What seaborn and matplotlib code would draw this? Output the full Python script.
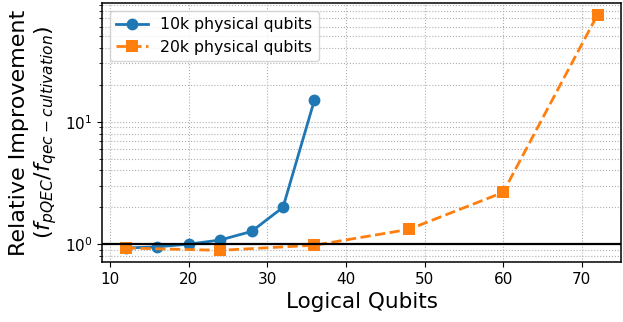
import matplotlib
matplotlib.use("Agg")
import matplotlib.pyplot as plt
import seaborn as sns
import pandas as pd

# Data
qubits_10k = [12, 16, 20, 24, 28, 32, 36]
improve_10k = [0.93, 0.95, 1.0, 1.08, 1.27, 2.0, 15.1]
qubits_20k = [12, 24, 36, 48, 60, 72]
improve_20k = [0.93, 0.89, 0.98, 1.32, 2.65, 75.0]
series_names = ['10k physical qubits', '20k physical qubits']

df = pd.concat([
    pd.DataFrame({'Logical Qubits': qubits_10k, 'Improvement': improve_10k, 'Setup': series_names[0]}),
    pd.DataFrame({'Logical Qubits': qubits_20k, 'Improvement': improve_20k, 'Setup': series_names[1]}),
])

fig = plt.figure(figsize=(6.23, 3.22), dpi=100)
ax = fig.add_axes([0.164, 0.186, 0.833, 0.805])

sns.lineplot(data=df, x='Logical Qubits', y='Improvement', hue='Setup', style='Setup',
             markers=['o', 's'], dashes=[(None, None), (3.7, 1.6)], markersize=8.5,
             markeredgewidth=0, linewidth=2, palette=['#1f77b4', '#ff7f0e'], ax=ax)

ax.set_yscale('log')
ax.axhline(1, color='black', linewidth=1.6)

# Grid on both major and minor ticks
ax.grid(True, which='both', linestyle=':', color='#b0b0b0', linewidth=0.8)
for s in ax.spines.values():
    s.set_linewidth(1.1)

ax.set_xlabel('Logical Qubits', fontsize=15.5)
ax.set_ylabel('Relative Improvement\n($f_{pQEC}/f_{qec-cultivation}$)', fontsize=16)
ax.tick_params(labelsize=11)
ax.legend(loc='upper left', fontsize=11.3)

fig.savefig('out.png', dpi=100)
